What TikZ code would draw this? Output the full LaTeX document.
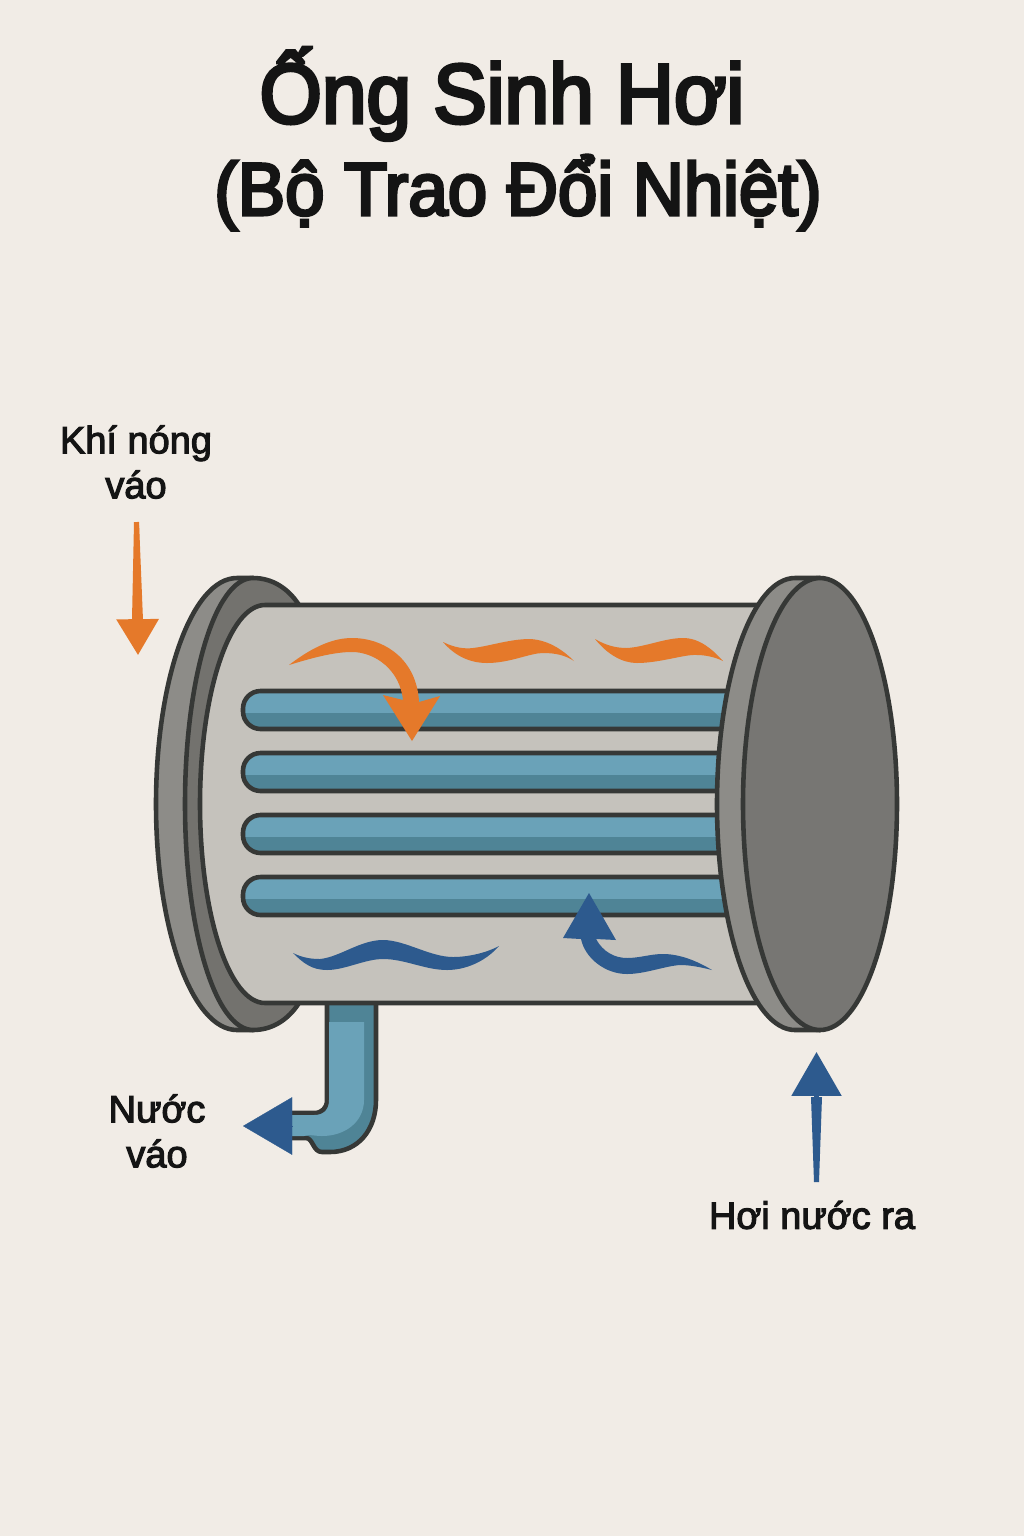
\documentclass[tikz,border=0pt]{standalone}
\usepackage{fontspec}
\setmainfont{Liberation Sans}
\newfontfamily\headfont[FakeBold=4,FakeStretch=0.95]{Liberation Sans}
\newfontfamily\tagfont[FakeBold=3]{Liberation Sans}
\usetikzlibrary{calc,arrows.meta}
\definecolor{paper}{HTML}{F1ECE6}
\definecolor{rim}{HTML}{363836}
\definecolor{shell}{HTML}{C5C2BC}
\definecolor{flangelight}{HTML}{8D8C88}
\definecolor{flangedark}{HTML}{73726E}
\definecolor{disc}{HTML}{777673}
\definecolor{waterlight}{HTML}{6AA2B8}
\definecolor{waterdark}{HTML}{4F8496}
\definecolor{hotflow}{HTML}{E5792A}
\definecolor{coldflow}{HTML}{2D5A8E}
\begin{document}
\begin{tikzpicture}[x=0.01cm,y=-0.01cm,
    outline/.style={draw=rim,line width=1.3pt,line join=round},
    titletext/.style={font=\fontsize{24}{28}\selectfont\headfont,text=black!92,inner sep=0pt,anchor=base},
    subtitletext/.style={titletext,font=\fontsize{21.2}{26}\selectfont\headfont},
    labeltext/.style={font=\fontsize{10.8}{12.8}\selectfont\tagfont,align=center,text=black!92,inner sep=0pt},
    hotarrow/.style={draw=hotflow,line width=1.4pt,-{Triangle[length=10.2pt,width=11.8pt]}},
    coldarrow/.style={draw=coldflow,line width=1.4pt,-{Triangle[length=12.5pt,width=14pt]}},
    outarrow/.style={coldflow,line width=0.1pt,-{Triangle[length=14pt,width=16.4pt]}}]
  \fill[paper] (0,0) rectangle (1024,1536);
  \useasboundingbox (0,0) rectangle (1024,1536);

  \node[titletext] (title) at (502,123) {Ống Sinh Hơi};
  \node[subtitletext] (subtitle) at (518,215) {(Bộ Trao Đổi Nhiệt)};

  % left flange
  \path[outline,fill=flangelight] (253,578) -- (237,578) .. controls (192,578) and (156,679) .. (156,804)
    .. controls (156,929) and (192,1030) .. (237,1030) -- (253,1030) -- cycle;
  \path[outline,fill=flangedark] (253,578) .. controls (215,578) and (185,679) .. (185,804)
    .. controls (185,929) and (215,1030) .. (253,1030) .. controls (272,1030) and (288,1020) .. (299,1003)
    -- (299,605) .. controls (288,588) and (272,578) .. (253,578) -- cycle;

  % outlet pipe
  \path[outline,fill=waterdark] (327,995) -- (327,1100) .. controls (327,1108) and (322,1113) .. (314,1113)
    -- (292,1113) -- (292,1138) -- (306,1138) .. controls (313,1138) and (313,1152) .. (322,1152) -- (330,1152)
    .. controls (358,1152) and (376,1130) .. (376,1100) -- (376,995) -- cycle;
  \fill[waterlight] (329,1022) -- (364,1022) -- (364,1100) .. controls (364,1122) and (345,1136) .. (322,1136)
    .. controls (314,1136) and (310,1134) .. (304,1136) -- (292,1136) -- (292,1115) -- (314,1115)
    .. controls (324,1115) and (329,1110) .. (329,1100) -- cycle;

  % shell
  \path[outline,fill=shell] (265,605) .. controls (229,605) and (200,694) .. (200,804)
    .. controls (200,914) and (229,1003) .. (265,1003) -- (770,1003) -- (770,605) -- cycle;

  % tubes
  \foreach \y in {691,753,815,877} {
    \begin{scope}
      \clip[rounded corners=5pt] (243,\y) rectangle (790,\y+38);
      \fill[waterlight] (243,\y) rectangle (790,\y+22);
      \fill[waterdark] (243,\y+22) rectangle (790,\y+38);
    \end{scope}
    \draw[rim,line width=1.3pt,rounded corners=5pt] (770,\y) -- (243,\y) -- (243,\y+38) -- (770,\y+38);
  }

  % right flange
  \path[outline,fill=flangelight] (820,578) -- (795,578) .. controls (752,578) and (717,679) .. (717,804)
    .. controls (717,929) and (752,1030) .. (795,1030) -- (820,1030) -- cycle;
  \path[outline,fill=disc] (820,804) ellipse [x radius=77,y radius=226];

  % hot gas
  \fill[hotflow] (289,665) .. controls (315,645) and (335,638) .. (352,638) .. controls (385,638) and (417,660) .. (419,702)
    -- (440,696) -- (412,741) -- (383,695) -- (403,700) .. controls (400,670) and (375,652) .. (352,652)
    .. controls (335,652) and (315,657) .. (289,665) -- cycle;
  \fill[hotflow] (443,642) .. controls (455,648) and (465,649) .. (473,648) .. controls (490,646) and (510,639) .. (530,639)
    .. controls (550,640) and (565,652) .. (574,661) .. controls (565,655) and (555,653) .. (543,653)
    .. controls (530,653) and (510,663) .. (487,663) .. controls (470,663) and (455,656) .. (443,642) -- cycle;
  \fill[hotflow] (595,639) .. controls (607,646) and (617,648) .. (627,648) .. controls (645,647) and (665,638) .. (683,638)
    .. controls (700,638) and (713,650) .. (723,661) .. controls (715,657) and (705,655) .. (697,655)
    .. controls (685,654) and (660,663) .. (637,663) .. controls (622,663) and (607,654) .. (595,639) -- cycle;

  % steam
  \fill[coldflow] (293,953) .. controls (303,958) and (312,959) .. (320,959) .. controls (340,957) and (360,940) .. (383,940)
    .. controls (405,940) and (430,957) .. (453,957) .. controls (470,957) and (488,952) .. (499,946)
    .. controls (485,962) and (465,970) .. (447,970) .. controls (425,970) and (405,959) .. (383,959)
    .. controls (365,959) and (345,970) .. (327,970) .. controls (312,970) and (303,963) .. (293,953) -- cycle;
  \fill[coldflow] (589,893) -- (616,940) -- (596,939) .. controls (603,952) and (615,958) .. (627,958)
    .. controls (640,958) and (650,954) .. (663,954) .. controls (680,954) and (697,961) .. (712,970)
    .. controls (700,967) and (690,965) .. (680,965) .. controls (665,966) and (645,974) .. (627,974)
    .. controls (605,974) and (585,958) .. (581,939) -- (563,938) -- cycle;

  % arrows and labels
  \coordinate (gasstart) at (136.5,522);
  \coordinate (gastip) at (138,655);
  \coordinate (steamstart) at (816.5,1182);
  \coordinate (steamtip) at (816.5,1052);
  \coordinate (pipeend) at (292,1126);
  \coordinate (watertip) at (243,1126);
  \fill[hotflow] (134,522) -- (139,522) -- (143,620) -- (132,620) -- cycle;
  \fill[coldflow] (814,1182) -- (819,1182) -- (822,1097) -- (811,1097) -- cycle;
  \draw[hotarrow] (gasstart) -- (gastip);
  \draw[coldarrow] (steamstart) -- (steamtip);
  \draw[outarrow] (pipeend) -- (watertip);

  \node[labeltext] (gaslabel) at (136,462) {Khí nóng\\váo};
  \node[labeltext] (waterlabel) at (157,1131) {Nước\\váo};
  \node[labeltext] (steamlabel) at (812,1215) {Hơi nước ra};
\end{tikzpicture}
\end{document}
